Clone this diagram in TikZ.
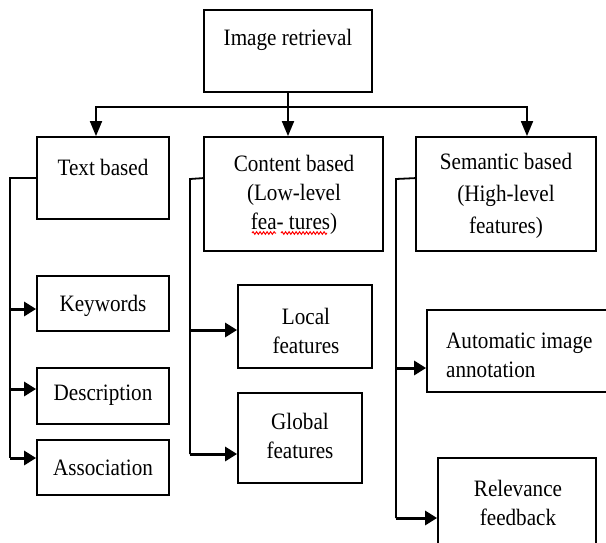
\documentclass[tikz,border=0pt]{standalone}
\usepackage{fontspec}
\setmainfont{Liberation Serif}[FakeStretch=0.9]
\usetikzlibrary{arrows.meta,calc,decorations.pathmorphing}
\begin{document}
\begin{tikzpicture}[x=1pt,y=-1pt,
  box/.style={draw,line width=1.8pt,inner sep=0pt,rectangle},
  lbl/.style={font=\fontsize{23.5}{29}\selectfont,align=center,inner sep=0pt},
  link/.style={line width=1.8pt},
  varr/.style={line width=1.8pt,-{Triangle[width=12pt,length=15pt]}},
  harr/.style={line width=3pt,-{Triangle[width=14pt,length=12pt]}},
  squig/.style={red,line width=1pt,decorate,decoration={snake,amplitude=1.3pt,segment length=3.5pt}}
]
\useasboundingbox (0,0) rectangle (606,542);
\begin{scope}
\clip (0,0) rectangle (606,542);
% boxes
\node[box,minimum width=168pt,minimum height=82pt] (root) at (288,51) {};
\node[box,minimum width=132pt,minimum height=82pt] (tb) at (103,178) {};
\node[box,minimum width=179pt,minimum height=114pt] (cb) at (293.5,194) {};
\node[box,minimum width=180pt,minimum height=114pt] (sb) at (506,194) {};
\node[box,minimum width=132pt,minimum height=55pt] (kw) at (103,303.5) {};
\node[box,minimum width=132pt,minimum height=56pt] (desc) at (103,396) {};
\node[box,minimum width=132pt,minimum height=55pt] (assoc) at (103,467.5) {};
\node[box,minimum width=134pt,minimum height=83pt] (loc) at (305,326.5) {};
\node[box,minimum width=124pt,minimum height=90pt] (glob) at (300,438) {};
\node[box,minimum width=185pt,minimum height=82pt] (auto) at (519.5,351) {};
\node[box,minimum width=158pt,minimum height=102pt] (rel) at (517,509) {};
% labels
\node[lbl] (rootT) at (288,40) {Image retrieval};
\node[lbl] (tbT) at (103,167) {Text based};
\node[lbl] (cbT) at (294,195) {Content based\\(Low-level\\fea- tures)};
\node[lbl,font=\fontsize{23.5}{32}\selectfont] (sbT) at (506,196) {Semantic based\\(High-level\\features)};
\node[lbl] (kwT) at (103,306) {Keywords};
\node[lbl] (descT) at (103,395) {Description};
\node[lbl] (assocT) at (103,468) {Association};
\node[lbl] (locT) at (306,330.5) {Local\\features};
\node[lbl] (globT) at (300,436) {Global\\features};
\node[lbl,align=left,anchor=west] (autoT) at (446,355.5) {Automatic image\\annotation};
\node[lbl] (relT) at (518,503) {Relevance\\feedback};
% spell-check squiggle
\draw[squig] (252,233) -- (276,233);
\draw[squig] (281,233) -- (327,233);
% top connectors
\coordinate (hub) at (288,107);
\draw[link] (root.south) -- (hub);
\draw[varr] (hub) -- (cb.north -| hub);
\draw[varr] (hub) -| ($(tb.north)+(-7,0)$);
\draw[varr] (hub) -| ($(sb.north)+(21,0)$);
% text based branch
\coordinate (tv) at (10,178);
\coordinate (kwin) at ($(kw.west)+(0,5.5)$);
\coordinate (descin) at ($(desc.west)+(0,-7)$);
\coordinate (associn) at ($(assoc.west)+(0,-9.5)$);
\draw[link] (tb.west) -- (tv) -- (tv |- associn);
\draw[harr] (tv |- kwin) -- (kwin);
\draw[harr] (tv |- descin) -- (descin);
\draw[harr] (tv |- associn) -- (associn);
% content based branch
\coordinate (cstart) at ($(cb.north west)+(0,42)$);
\coordinate (cv) at (190,179);
\coordinate (locin) at ($(loc.west)+(0,3.5)$);
\coordinate (globin) at ($(glob.west)+(0,16)$);
\draw[link] (cstart) -- (cv) -- (cv |- globin);
\draw[harr] (cv |- locin) -- (locin);
\draw[harr] (cv |- globin) -- (globin);
% semantic based branch
\coordinate (sstart) at ($(sb.north west)+(0,42)$);
\coordinate (sv) at (396,179);
\coordinate (autoin) at ($(auto.west)+(0,17)$);
\coordinate (relin) at ($(rel.west)+(0,9)$);
\draw[link] (sstart) -- (sv) -- (sv |- relin);
\draw[harr] (sv |- autoin) -- (autoin);
\draw[harr] (sv |- relin) -- (relin);
\end{scope}
\end{tikzpicture}
\end{document}
